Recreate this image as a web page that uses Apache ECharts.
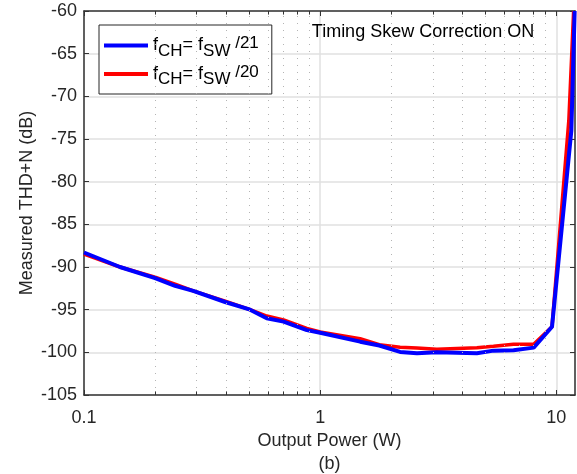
<!DOCTYPE html>
<html>
<head>
<meta charset="utf-8">
<script src="https://cdn.jsdelivr.net/npm/echarts@6/dist/echarts.min.js"></script>
<style>
html,body{margin:0;padding:0;background:#fff;}
#chart{width:577px;height:474px;}
</style>
</head>
<body>
<div id="chart"></div>
<script>
// ---- data ----
var bluePower = [0.1, 0.142, 0.2, 0.243, 0.29, 0.396, 0.505, 0.594, 0.70, 0.878, 1.0, 1.477, 1.78, 2.18, 2.57, 3.12, 4.61, 5.42, 6.59, 8.02, 9.59, 11.58, 11.96];
var blueTHD   = [-88.3, -90.0, -91.3, -92.2, -92.8, -94.1, -95.0, -96.0, -96.4, -97.4, -97.7, -98.75, -99.2, -99.95, -100.1, -100.0, -100.1, -99.8, -99.75, -99.45, -97.0, -74.0, -60.0];
var redPower  = [0.1, 0.142, 0.2, 0.243, 0.29, 0.396, 0.505, 0.594, 0.70, 0.878, 1.0, 1.477, 1.78, 2.18, 2.57, 3.12, 4.61, 5.42, 6.59, 8.02, 9.59, 11.30, 11.84];
var redTHD    = [-88.5, -90.0, -91.2, -92.0, -92.8, -94.0, -95.0, -95.75, -96.2, -97.2, -97.6, -98.4, -99.1, -99.4, -99.5, -99.65, -99.45, -99.3, -99.06, -99.06, -97.0, -72.8, -60.0];
var minorX    = [0.2, 0.3, 0.4, 0.5, 0.6, 0.7, 0.8, 0.9, 2, 3, 4, 5, 6, 7, 8, 9];
var blueName  = 'fCH=fSW/21';
var redName   = 'fCH=fSW/20';
var annotation = 'Timing Skew Correction ON';
var xTitle = 'Output Power (W)\n(b)';
var yTitle = 'Measured THD+N (dB)';

var FONT = "'Liberation Sans', Arial, Helvetica, sans-serif";
var TXT = '#262626';

function pairs(xs, ys){ return xs.map(function(x,i){ return [x, ys[i]]; }); }

var Y_MIN = -105, Y_MAX = -60;
var minorGrid = minorX.map(function(x){ return {xAxis: x}; });
var minorTicks = [];
minorX.forEach(function(x){
  minorTicks.push([{coord:[x, Y_MIN]}, {coord:[x, Y_MIN + 0.42]}]);
  minorTicks.push([{coord:[x, Y_MAX]}, {coord:[x, Y_MAX - 0.42]}]);
});

var legendRich = {
  n: {fontSize: 18, fontFamily: FONT, color: '#000', lineHeight: 28, verticalAlign: 'middle'},
  s: {fontSize: 17, fontFamily: FONT, color: '#000', lineHeight: 17, verticalAlign: 'bottom'},
  p: {fontSize: 17, fontFamily: FONT, color: '#000', lineHeight: 24, verticalAlign: 'middle', padding: [0, 0, 4, 0]}
};
var legendLabel = {};
legendLabel[blueName] = '{n|f}{s|CH}{n|= f}{s|SW}{p| /21}';
legendLabel[redName]  = '{n|f}{s|CH}{n|= f}{s|SW}{p| /20}';

var chart = echarts.init(document.getElementById('chart'), null, {renderer: 'canvas'});
var axisLineStyle = {color: '#333', width: 1.5};

chart.setOption({
  animation: false,
  backgroundColor: '#fff',
  grid: {left: 84, top: 11, width: 491, height: 384, containLabel: false, outerBoundsMode: 'none'},
  legend: {
    orient: 'vertical',
    left: 99, top: 25,
    data: [blueName, redName],
    icon: 'rect',
    itemWidth: 44, itemHeight: 4,
    itemGap: 4,
    padding: [10, 13, 6, 5],
    backgroundColor: '#fff',
    borderColor: '#262626', borderWidth: 1,
    formatter: function(name){ return legendLabel[name]; },
    textStyle: {rich: legendRich, fontFamily: FONT, fontSize: 18, color: '#000'}
  },
  graphic: [{
    type: 'text', x: 423, y: 32, z: 100,
    style: {text: annotation, font: '18px ' + FONT, fill: '#000', textAlign: 'center', textVerticalAlign: 'middle'}
  }],
  xAxis: [{
    type: 'log', logBase: 10, min: 0.1, max: 12,
    name: xTitle, nameLocation: 'middle', nameGap: 35, nameMoveOverlap: false,
    nameTextStyle: {fontFamily: FONT, fontSize: 18, color: TXT, lineHeight: 23},
    axisLine: {show: true, onZero: false, lineStyle: axisLineStyle},
    axisTick: {show: true, inside: true, length: 5, lineStyle: {color: '#333', width: 1}},
    axisLabel: {fontFamily: FONT, fontSize: 18, color: TXT, margin: 14,
      formatter: function(v){ return (Math.abs(v - 0.1) < 1e-9) ? '0.1' : String(Math.round(v)); }},
    splitLine: {show: true, lineStyle: {color: '#e0e0e0', width: 1.5}},
    minorTick: {show: false}, minorSplitLine: {show: false}
  }, {
    type: 'log', logBase: 10, min: 0.1, max: 12, position: 'top',
    axisLine: {show: true, onZero: false, lineStyle: axisLineStyle},
    axisTick: {show: true, inside: true, length: 5, lineStyle: {color: '#333', width: 1}},
    axisLabel: {show: false}, splitLine: {show: false}
  }],
  yAxis: [{
    type: 'value', min: Y_MIN, max: Y_MAX, interval: 5,
    name: yTitle, nameLocation: 'middle', nameGap: 48, nameRotate: 90, nameMoveOverlap: false,
    nameTextStyle: {fontFamily: FONT, fontSize: 18, color: TXT},
    axisLine: {show: true, onZero: false, lineStyle: axisLineStyle},
    axisTick: {show: true, inside: true, length: 5, lineStyle: {color: '#333', width: 1}},
    axisLabel: {fontFamily: FONT, fontSize: 18, color: TXT, margin: 7},
    splitLine: {show: true, lineStyle: {color: '#e0e0e0', width: 1.5}}
  }, {
    type: 'value', min: Y_MIN, max: Y_MAX, interval: 5, position: 'right',
    axisLine: {show: true, onZero: false, lineStyle: axisLineStyle},
    axisTick: {show: true, inside: true, length: 5, lineStyle: {color: '#333', width: 1}},
    axisLabel: {show: false}, splitLine: {show: false}
  }],
  series: [{
    name: '_grid', type: 'line', data: [], silent: true,
    markLine: {
      silent: true, symbol: 'none', label: {show: false}, animation: false,
      lineStyle: {color: '#b4b4b4', width: 1, type: [1, 6]},
      emphasis: {disabled: true},
      data: minorGrid
    }
  }, {
    name: '_ticks', type: 'line', data: [], silent: true,
    markLine: {
      silent: true, symbol: 'none', label: {show: false}, animation: false,
      lineStyle: {color: '#333', width: 1, type: 'solid'},
      emphasis: {disabled: true},
      data: minorTicks
    }
  }, {
    name: redName, type: 'line', data: pairs(redPower, redTHD),
    showSymbol: false, symbol: 'none', clip: true,
    lineStyle: {color: '#ff0000', width: 3.5}, itemStyle: {color: '#ff0000'}, z: 3
  }, {
    name: blueName, type: 'line', data: pairs(bluePower, blueTHD),
    showSymbol: false, symbol: 'none', clip: true,
    lineStyle: {color: '#0000ff', width: 4}, itemStyle: {color: '#0000ff'}, z: 4
  }]
});
</script>
</body>
</html>
